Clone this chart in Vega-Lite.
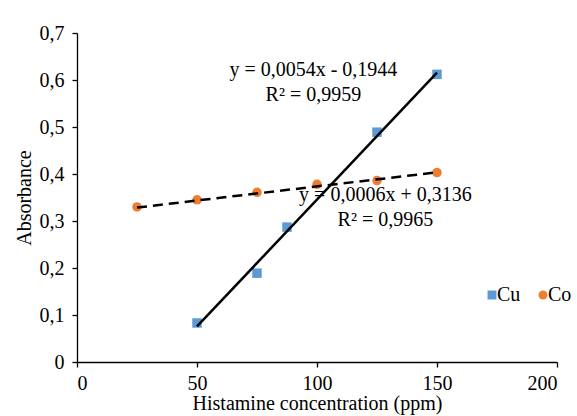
{
  "$schema": "https://vega.github.io/schema/vega-lite/v6.json",
  "width": 480,
  "height": 329,
  "autosize": {"type": "none"},
  "padding": {"left": 77, "top": 33, "right": 20, "bottom": 54},
  "background": "white",
  "config": {
    "view": {"stroke": null},
    "font": "Liberation Serif",
    "axis": {
      "domainColor": "black",
      "tickColor": "black",
      "domainWidth": 1.3,
      "tickWidth": 1.3,
      "tickSize": 5,
      "grid": false,
      "labelFont": "Liberation Serif",
      "labelFontSize": 20,
      "labelColor": "black",
      "titleFont": "Liberation Serif",
      "titleFontSize": 20,
      "titleFontWeight": "normal",
      "titleColor": "black"
    }
  },
  "datasets": {
    "points": [
      {"series": "Cu", "conc": 50, "abs": 0.083},
      {"series": "Cu", "conc": 75, "abs": 0.189},
      {"series": "Cu", "conc": 87.5, "abs": 0.287},
      {"series": "Cu", "conc": 125, "abs": 0.489},
      {"series": "Cu", "conc": 150, "abs": 0.612},
      {"series": "Co", "conc": 25, "abs": 0.33},
      {"series": "Co", "conc": 50, "abs": 0.345},
      {"series": "Co", "conc": 75, "abs": 0.361},
      {"series": "Co", "conc": 100, "abs": 0.378},
      {"series": "Co", "conc": 125, "abs": 0.386},
      {"series": "Co", "conc": 150, "abs": 0.403}
    ],
    "trend": [
      {"series": "Cu", "conc": 50, "abs": 0.0756},
      {"series": "Cu", "conc": 150, "abs": 0.6156},
      {"series": "Co", "conc": 25, "abs": 0.3286},
      {"series": "Co", "conc": 150, "abs": 0.4036}
    ]
  },
  "layer": [
    {
      "data": {"name": "points"},
      "mark": {"type": "point", "filled": true, "opacity": 1},
      "encoding": {
        "x": {
          "field": "conc", "type": "quantitative",
          "scale": {"domain": [0, 200], "nice": false, "zero": false},
          "axis": {"values": [0, 50, 100, 150, 200], "title": "Histamine concentration (ppm)", "labelPadding": 6, "titlePadding": 0}
        },
        "y": {
          "field": "abs", "type": "quantitative",
          "scale": {"domain": [0, 0.7], "nice": false},
          "axis": {
            "values": [0, 0.1, 0.2, 0.3, 0.4, 0.5, 0.6, 0.7],
            "labelExpr": "datum.value == 0 ? '0' : replace(format(datum.value, '.1f'), '.', ',')",
            "title": "Absorbance",
            "labelPadding": 8,
            "titlePadding": 5
          }
        },
        "color": {
          "field": "series", "type": "nominal",
          "scale": {"domain": ["Cu", "Co"], "range": ["#5B9BD5", "#ED7D31"]},
          "legend": {
            "title": null,
            "orient": "none",
            "direction": "horizontal",
            "legendX": 405,
            "legendY": 252,
            "labelFont": "Liberation Serif",
            "labelFontSize": 20,
            "labelColor": "black",
            "symbolSize": 80,
            "columnPadding": 12,
            "labelOffset": -5
          }
        },
        "shape": {
          "field": "series", "type": "nominal",
          "scale": {"domain": ["Cu", "Co"], "range": ["square", "circle"]},
          "legend": null
        },
        "size": {"value": 90}
      }
    },
    {
      "data": {"name": "trend"},
      "transform": [{"filter": "datum.series == 'Cu'"}],
      "mark": {"type": "line", "color": "black", "strokeWidth": 2.5},
      "encoding": {
        "x": {"field": "conc", "type": "quantitative"},
        "y": {"field": "abs", "type": "quantitative"}
      }
    },
    {
      "data": {"name": "trend"},
      "transform": [{"filter": "datum.series == 'Co'"}],
      "mark": {"type": "line", "color": "black", "strokeWidth": 2.5, "strokeDash": [10, 6]},
      "encoding": {
        "x": {"field": "conc", "type": "quantitative"},
        "y": {"field": "abs", "type": "quantitative"}
      }
    },
    {
      "data": {"values": [{}]},
      "mark": {"type": "text", "font": "Liberation Serif", "fontSize": 20, "color": "black", "align": "center", "baseline": "middle", "lineHeight": 25},
      "encoding": {
        "x": {"datum": 98.5},
        "y": {"datum": 0.622},
        "text": {"value": ["y = 0,0054x - 0,1944", "R² = 0,9959"]}
      }
    },
    {
      "data": {"values": [{}]},
      "mark": {"type": "text", "font": "Liberation Serif", "fontSize": 20, "color": "black", "align": "center", "baseline": "middle", "lineHeight": 25},
      "encoding": {
        "x": {"datum": 128.5},
        "y": {"datum": 0.355},
        "text": {"value": ["y = 0,0006x + 0,3136", "R² = 0,9965"]}
      }
    }
  ]
}
